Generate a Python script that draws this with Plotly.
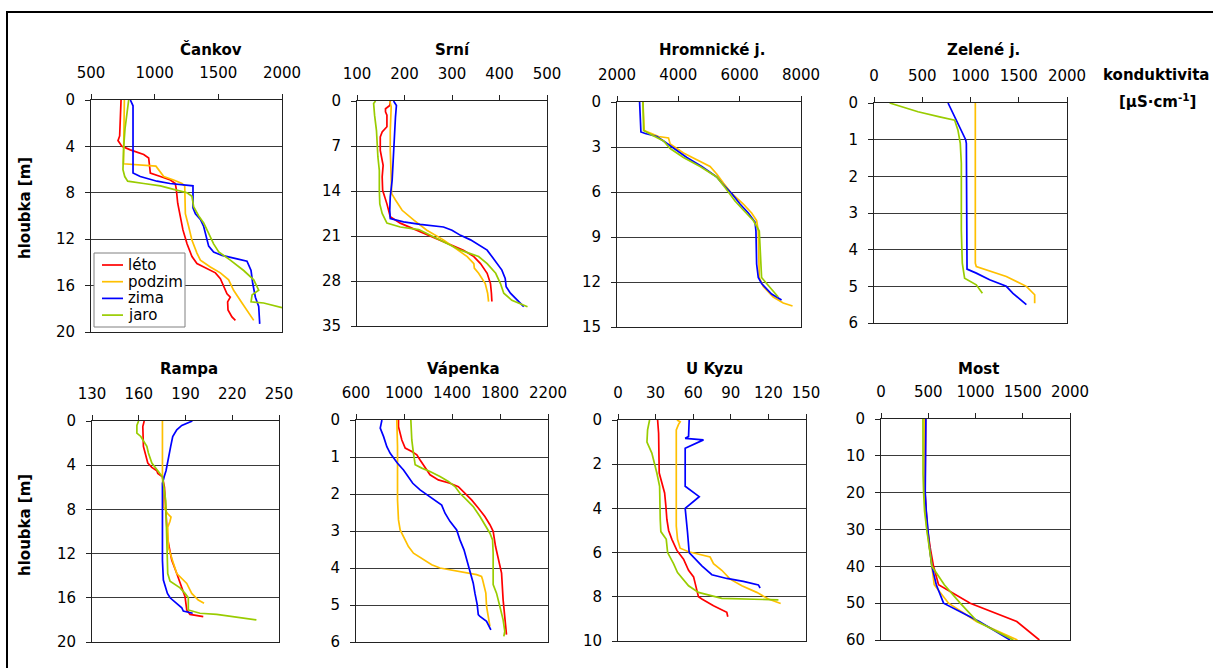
import plotly.graph_objects as go

W, H = 1213, 668

SEASONS = ["léto", "podzim", "zima", "jaro"]
COLORS = {"léto": "#FF0000", "podzim": "#FFC000", "zima": "#0000FF", "jaro": "#99CC00"}

# ---- Čankov ----
CANKOV_LETO_H = [0, 3.1, 3.5, 4.0, 4.3, 4.7, 5.0, 6.3, 6.6, 6.9, 7.2, 7.7, 8.9, 10.0, 11.2, 12.4, 13.5, 14.1, 14.5, 14.9, 15.4, 16.1, 16.7, 17.0, 17.4, 18.1, 18.7, 19.0]
CANKOV_LETO_K = [736, 725, 712, 743, 809, 914, 953, 966, 1045, 1123, 1162, 1170, 1181, 1202, 1222, 1254, 1293, 1332, 1411, 1477, 1516, 1547, 1568, 1594, 1573, 1576, 1607, 1634]
CANKOV_PODZIM_H = [0, 5.5, 5.7, 6.0, 6.6, 6.9, 7.2, 7.4, 8.0, 9.8, 10.9, 12.1, 13.2, 13.8, 14.4, 14.9, 15.5, 16.4, 17.5, 18.4, 19.0]
CANKOV_PODZIM_K = [762, 755, 1010, 1031, 1071, 1149, 1215, 1236, 1236, 1241, 1267, 1293, 1332, 1359, 1437, 1516, 1581, 1620, 1686, 1738, 1778]
CANKOV_ZIMA_H = [0, 0.5, 6.3, 6.6, 7.0, 7.2, 7.4, 9.3, 9.8, 10.3, 10.9, 11.8, 12.6, 13.1, 13.4, 13.7, 13.9, 14.7, 15.8, 17.0, 17.8, 19.3]
CANKOV_ZIMA_K = [809, 830, 830, 887, 1018, 1120, 1301, 1301, 1320, 1359, 1385, 1406, 1424, 1463, 1529, 1647, 1725, 1757, 1770, 1791, 1817, 1825]
CANKOV_JARO_H = [0, 1.1, 2.5, 4.0, 6.0, 6.6, 7.0, 7.2, 7.4, 7.7, 8.0, 8.3, 9.2, 10.0, 10.6, 11.5, 12.4, 13.1, 13.8, 14.7, 15.5, 16.4, 16.8, 17.4, 17.5, 17.9]
CANKOV_JARO_K = [796, 783, 767, 757, 751, 765, 788, 914, 1045, 1149, 1254, 1293, 1306, 1346, 1385, 1424, 1463, 1503, 1594, 1699, 1778, 1817, 1765, 1757, 1856, 2000]

# ---- Srní ----
SRNI_LETO_H = [0, 0.7, 1.2, 1.7, 2.2, 4.0, 4.8, 5.6, 7.7, 9.5, 10.0, 11.8, 13.9, 16.0, 18.0, 19.0, 20.1, 21.1, 22.2, 23.2, 24.2, 25.3, 26.8, 28.4, 29.9, 31.2]
SRNI_LETO_K = [170, 169, 160, 160, 163, 163, 153, 149, 149, 153, 155, 153, 154, 163, 170, 191, 226, 261, 296, 324, 346, 360, 374, 381, 383, 384]
SRNI_PODZIM_H = [0, 0.9, 4.6, 7.7, 11.8, 14.4, 15.4, 17.0, 18.5, 20.1, 21.6, 23.2, 24.2, 25.3, 26.0, 26.8, 28.4, 29.9, 31.2]
SRNI_PODZIM_K = [169, 172, 170, 170, 172, 173, 181, 195, 219, 247, 282, 314, 332, 346, 347, 356, 370, 375, 377]
SRNI_ZIMA_H = [0, 0.7, 2.5, 7.1, 12.3, 14.9, 17.0, 18.3, 18.8, 19.2, 19.6, 20.1, 20.9, 21.6, 23.2, 24.2, 25.3, 26.3, 27.6, 28.9, 29.9, 31.0, 32.0]
SRNI_ZIMA_K = [177, 183, 181, 177, 174, 170, 169, 170, 198, 233, 282, 300, 318, 339, 374, 384, 395, 405, 412, 414, 423, 437, 451]
SRNI_JARO_H = [0, 0.4, 2.2, 4.6, 8.7, 10.8, 13.9, 16.0, 17.5, 19.0, 19.6, 20.0, 20.6, 21.6, 23.2, 24.2, 25.3, 26.8, 28.4, 29.9, 31.0, 32.0]
SRNI_JARO_K = [139, 135, 137, 141, 144, 147, 147, 148, 153, 163, 191, 230, 247, 275, 318, 356, 374, 392, 402, 409, 426, 459]

# ---- Hromnické jezírko ----
HROM_PODZIM_H = [0, 1.9, 2.3, 2.4, 2.8, 3.4, 4.3, 4.8, 5.4, 6.1, 6.8, 7.4, 7.9, 8.6, 11.7, 12.3, 13.0, 13.4, 13.6]
HROM_PODZIM_K = [2846, 2889, 3355, 3680, 3734, 4168, 5035, 5252, 5469, 5740, 6119, 6390, 6553, 6607, 6640, 6770, 7095, 7420, 7724]
HROM_ZIMA_H = [0, 2.0, 2.1, 2.3, 2.6, 3.0, 3.7, 4.3, 5.0, 5.4, 6.1, 6.8, 7.4, 8.0, 8.6, 10.8, 11.7, 12.1, 12.8, 13.2]
HROM_ZIMA_K = [2737, 2780, 2921, 3301, 3518, 3789, 4276, 4764, 5252, 5415, 5740, 6011, 6282, 6499, 6531, 6553, 6607, 6715, 7041, 7366]
HROM_JARO_H = [0, 1.9, 2.2, 2.6, 3.1, 3.7, 4.3, 5.0, 5.7, 6.6, 7.2, 7.9, 8.6, 11.7, 12.1, 13.0]
HROM_JARO_K = [2846, 2867, 3138, 3518, 3734, 4168, 4710, 5252, 5523, 5848, 6119, 6444, 6640, 6715, 6878, 7257]

# ---- Zelené jezírko ----
ZEL_PODZIM_H = [0, 4.37, 4.46, 4.73, 5.0, 5.23, 5.46]
ZEL_PODZIM_K = [1050, 1050, 1060, 1371, 1579, 1665, 1665]
ZEL_ZIMA_H = [0, 0.38, 0.74, 1.0, 1.1, 4.0, 4.53, 4.64, 4.82, 5.0, 5.19, 5.5]
ZEL_ZIMA_K = [767, 836, 898, 950, 957, 964, 964, 1060, 1198, 1371, 1440, 1579]
ZEL_JARO_H = [0, 0.24, 0.38, 0.47, 0.74, 1.1, 1.65, 3.46, 4.37, 4.78, 4.96, 5.19]
ZEL_JARO_K = [162, 456, 680, 836, 870, 894, 905, 905, 915, 939, 1060, 1123]

# ---- Rampa ----
RAMPA_LETO_H = [0, 0.5, 2.3, 3.2, 3.8, 4.2, 4.5, 4.75, 5.05, 6.0, 7.8, 10.5, 11.4, 12.6, 13.8, 15.0, 15.9, 17.1, 17.5, 17.7]
RAMPA_LETO_K = [163.5, 162.6, 163.0, 164.5, 165.8, 168.4, 171.6, 172.2, 175.2, 176.5, 177.3, 178.4, 179.5, 181.2, 184.4, 187.6, 189.7, 190.8, 192.9, 201.4]
RAMPA_PODZIM_H = [0, 5.0, 7.8, 8.4, 8.7, 9.1, 9.6, 11.4, 12.6, 13.8, 14.7, 15.6, 16.2, 16.5]
RAMPA_PODZIM_K = [175.2, 175.2, 176.0, 178.6, 180.7, 180.0, 178.6, 179.0, 181.6, 184.4, 190.8, 194.0, 198.2, 201.9]
RAMPA_ZIMA_H = [0, 0.4, 0.8, 1.4, 2.3, 3.5, 4.5, 5.05, 5.65, 7.8, 12.6, 14.4, 15.0, 15.6, 16.0, 16.5, 16.9, 17.2, 17.4]
RAMPA_ZIMA_K = [194.4, 187.6, 184.4, 181.8, 180.5, 179.0, 177.5, 176.3, 175.2, 175.2, 175.2, 175.8, 176.9, 178.4, 180.1, 184.4, 187.6, 188.6, 194.6]
RAMPA_JARO_H = [0, 0.4, 1.1, 1.4, 2.3, 2.9, 3.8, 4.6, 5.05, 5.65, 7.2, 10.8, 13.8, 14.5, 15.1, 15.6, 16.0, 17.1, 17.4, 17.5, 17.7, 18.0]
RAMPA_JARO_K = [159.9, 158.8, 158.8, 161.3, 165.2, 166.2, 168.4, 172.6, 175.2, 175.8, 177.3, 178.0, 178.6, 180.1, 186.5, 189.7, 191.8, 191.8, 199.3, 210.0, 220.6, 235.5]

# ---- Vápenka ----
VAP_LETO_H = [0, 0.18, 0.54, 0.76, 0.85, 0.94, 1.08, 1.3, 1.48, 1.62, 1.71, 1.8, 1.98, 2.16, 2.38, 2.61, 2.83, 3.01, 3.42, 3.78, 4.14, 4.86, 5.58, 5.8]
VAP_LETO_K = [954, 954, 982, 1010, 1065, 1107, 1134, 1176, 1217, 1286, 1383, 1453, 1508, 1563, 1619, 1674, 1716, 1743, 1763, 1785, 1813, 1826, 1848, 1854]
VAP_PODZIM_H = [0, 0.72, 2.16, 2.7, 2.97, 3.15, 3.42, 3.6, 3.78, 3.91, 4.0, 4.09, 4.18, 4.23, 4.32, 4.68, 5.04, 5.58]
VAP_PODZIM_K = [940, 946, 946, 954, 968, 996, 1037, 1079, 1162, 1231, 1300, 1439, 1605, 1646, 1655, 1682, 1688, 1716]
VAP_ZIMA_H = [0, 0.22, 0.45, 0.72, 0.9, 1.03, 1.17, 1.35, 1.53, 1.71, 1.89, 2.02, 2.16, 2.3, 2.52, 2.74, 2.97, 3.24, 3.51, 3.78, 4.14, 4.41, 4.68, 4.99, 5.26, 5.31, 5.44, 5.67]
VAP_ZIMA_K = [816, 802, 830, 857, 885, 913, 946, 996, 1037, 1073, 1134, 1190, 1245, 1314, 1342, 1383, 1439, 1466, 1500, 1522, 1549, 1577, 1591, 1610, 1619, 1633, 1688, 1724]
VAP_JARO_H = [0, 0.54, 0.9, 1.21, 1.3, 1.39, 1.53, 1.66, 1.8, 1.98, 2.16, 2.34, 2.61, 2.88, 3.06, 3.24, 3.6, 4.45, 4.68, 5.04, 5.4, 5.71, 5.85]
VAP_JARO_K = [1057, 1065, 1079, 1093, 1148, 1217, 1300, 1370, 1425, 1466, 1522, 1577, 1633, 1682, 1716, 1738, 1743, 1743, 1771, 1799, 1826, 1840, 1832]

# ---- U Kyzu ----
KYZ_LETO_H = [0, 0.6, 2.4, 2.9, 3.3, 3.9, 4.5, 5.0, 5.4, 5.9, 6.3, 6.8, 7.1, 7.7, 8.0, 8.1, 8.4, 8.7, 8.9]
KYZ_LETO_K = [31.6, 32.4, 32.9, 35.0, 37.2, 38.2, 39.0, 40.4, 43.0, 47.0, 52.3, 56.3, 60.3, 62.9, 64.2, 66.9, 76.2, 86.8, 87.6]
KYZ_PODZIM_H = [0, 0.08, 0.2, 0.45, 4.8, 5.4, 5.8, 5.96, 6.2, 6.5, 6.8, 7.2, 7.5, 7.8, 8.1, 8.3]
KYZ_PODZIM_K = [47.0, 49.6, 48.3, 46.5, 46.5, 47.5, 49.6, 56.3, 73.5, 76.2, 82.8, 89.5, 98.8, 110.7, 120.0, 129.8]
KYZ_ZIMA_H = [0, 0.75, 0.83, 0.9, 1.28, 1.8, 3.0, 3.47, 4.0, 5.1, 6.0, 6.6, 7.0, 7.17, 7.3, 7.46, 7.6]
KYZ_ZIMA_K = [56.8, 56.3, 53.6, 68.2, 53.6, 53.6, 53.6, 64.8, 53.6, 55.5, 56.8, 66.9, 74.9, 86.8, 100.0, 112.0, 113.4]
KYZ_JARO_H = [0, 0.45, 1.0, 1.5, 2.4, 3.0, 4.5, 5.05, 5.4, 6.0, 6.5, 6.9, 7.5, 7.8, 8.07, 8.1, 8.14]
KYZ_JARO_K = [25.2, 23.6, 23.1, 27.0, 31.0, 33.2, 33.7, 34.2, 38.5, 39.6, 44.3, 47.5, 56.3, 64.2, 82.8, 100.0, 128.0]

# ---- Most ----
MOST_H = [0, 5, 10, 15, 20, 25, 30, 35, 40, 45, 50, 55, 60]
MOST_LETO_K = [472, 470, 468, 467, 466, 478, 493, 521, 556, 609, 944, 1437, 1676]
MOST_PODZIM_K = [461, 461, 461, 461, 461, 470, 486, 514, 539, 563, 715, 1010, 1444]
MOST_ZIMA_K = [475, 473, 470, 469, 468, 479, 493, 514, 539, 585, 662, 1040, 1366]
MOST_JARO_K = [444, 442, 440, 445, 451, 461, 484, 511, 539, 670, 838, 1020, 1401]

# Panel definitions: title, pixel box (left, top, right, bottom), x range, x step,
# max depth, depth step, series, title centre (px)
PANELS = [
    ("Čankov", (91, 100, 282, 332), (500, 2000), 500, 20, 4,
     [("léto", CANKOV_LETO_H, CANKOV_LETO_K), ("podzim", CANKOV_PODZIM_H, CANKOV_PODZIM_K),
      ("zima", CANKOV_ZIMA_H, CANKOV_ZIMA_K), ("jaro", CANKOV_JARO_H, CANKOV_JARO_K)], 211),
    ("Srní", (357, 101, 547, 326), (100, 500), 100, 35, 7,
     [("léto", SRNI_LETO_H, SRNI_LETO_K), ("podzim", SRNI_PODZIM_H, SRNI_PODZIM_K),
      ("zima", SRNI_ZIMA_H, SRNI_ZIMA_K), ("jaro", SRNI_JARO_H, SRNI_JARO_K)], 452),
    ("Hromnické j.", (617, 102, 801, 327), (2000, 8000), 2000, 15, 3,
     [("podzim", HROM_PODZIM_H, HROM_PODZIM_K), ("zima", HROM_ZIMA_H, HROM_ZIMA_K),
      ("jaro", HROM_JARO_H, HROM_JARO_K)], 712),
    ("Zelené j.", (874, 103, 1067, 323), (0, 2000), 500, 6, 1,
     [("podzim", ZEL_PODZIM_H, ZEL_PODZIM_K), ("zima", ZEL_ZIMA_H, ZEL_ZIMA_K),
      ("jaro", ZEL_JARO_H, ZEL_JARO_K)], 983),
    ("Rampa", (92, 421, 279, 642), (130, 250), 30, 20, 4,
     [("léto", RAMPA_LETO_H, RAMPA_LETO_K), ("podzim", RAMPA_PODZIM_H, RAMPA_PODZIM_K),
      ("zima", RAMPA_ZIMA_H, RAMPA_ZIMA_K), ("jaro", RAMPA_JARO_H, RAMPA_JARO_K)], 189),
    ("Vápenka", (356, 420, 548, 642), (600, 2200), 400, 6, 1,
     [("léto", VAP_LETO_H, VAP_LETO_K), ("podzim", VAP_PODZIM_H, VAP_PODZIM_K),
      ("zima", VAP_ZIMA_H, VAP_ZIMA_K), ("jaro", VAP_JARO_H, VAP_JARO_K)], 463),
    ("U Kyzu", (618, 420, 806, 641), (0, 150), 30, 10, 2,
     [("léto", KYZ_LETO_H, KYZ_LETO_K), ("podzim", KYZ_PODZIM_H, KYZ_PODZIM_K),
      ("zima", KYZ_ZIMA_H, KYZ_ZIMA_K), ("jaro", KYZ_JARO_H, KYZ_JARO_K)], 714),
    ("Most", (881, 419, 1070, 640), (0, 2000), 500, 60, 10,
     [("léto", MOST_H, MOST_LETO_K), ("podzim", MOST_H, MOST_PODZIM_K),
      ("zima", MOST_H, MOST_ZIMA_K), ("jaro", MOST_H, MOST_JARO_K)], 978),
]

FONT = "DejaVu Sans"
AXIS_COLOR = "#222222"


def px_x(p):
    return p / W


def px_y(p):
    return 1 - p / H


fig = go.Figure()
annotations = []
shapes = []
layout_axes = {}

for i, (title, box, xr, xstep, dmax, dstep, series, title_cx) in enumerate(PANELS, start=1):
    left, top, right, bottom = box
    xa = "x" if i == 1 else f"x{i}"
    ya = "y" if i == 1 else f"y{i}"
    for season, depth, vals in series:
        fig.add_trace(go.Scatter(
            x=vals, y=depth, mode="lines", name=season,
            line=dict(color=COLORS[season], width=1.7),
            xaxis=xa, yaxis=ya, showlegend=False,
        ))
    layout_axes["xaxis" if i == 1 else f"xaxis{i}"] = dict(
        domain=[px_x(left), px_x(right)], range=list(xr), tick0=xr[0], dtick=xstep,
        side="top", anchor=ya, showline=True, mirror=True, linecolor=AXIS_COLOR,
        linewidth=1, ticks="outside", ticklen=5, tickcolor=AXIS_COLOR,
        ticklabelstandoff=10, showgrid=False, zeroline=False,
        tickfont=dict(size=15, color="black"),
    )
    layout_axes["yaxis" if i == 1 else f"yaxis{i}"] = dict(
        domain=[px_y(bottom), px_y(top)], range=[dmax, 0], tick0=0, dtick=dstep,
        anchor=xa, showline=True, mirror=True, linecolor=AXIS_COLOR, linewidth=1,
        ticks="outside", ticklen=5, tickcolor=AXIS_COLOR, ticklabelstandoff=7,
        showgrid=True, gridcolor="#3a3a3a", gridwidth=1, zeroline=False,
        tickfont=dict(size=15, color="black"),
    )
    annotations.append(dict(
        text=f"<b>{title}</b>", x=px_x(title_cx), y=px_y(50 if i <= 4 else 369),
        xref="paper", yref="paper", showarrow=False, xanchor="center", yanchor="middle",
        font=dict(size=15, color="black", family=FONT),
    ))

for cy in (208, 525):
    annotations.append(dict(
        text="<b>hloubka [m]</b>", x=px_x(25), y=px_y(cy), xref="paper", yref="paper",
        showarrow=False, textangle=-90, xanchor="center", yanchor="middle",
        font=dict(size=15, color="black", family=FONT),
    ))

annotations.append(dict(
    text="<b>konduktivita</b>", x=px_x(1156), y=px_y(75), xref="paper", yref="paper",
    showarrow=False, xanchor="center", yanchor="middle",
    font=dict(size=15, color="black", family=FONT),
))
annotations.append(dict(
    text="<b>[µS·cm<sup>-1</sup>]</b>", x=px_x(1157), y=px_y(101), xref="paper", yref="paper",
    showarrow=False, xanchor="center", yanchor="middle",
    font=dict(size=15, color="black", family=FONT),
))

# Season key inside the Čankov panel
LEG_LEFT, LEG_TOP, LEG_RIGHT, LEG_BOTTOM = 94, 253, 185, 327
LEG_ROW0, LEG_ROW_STEP = 265, 16.7
shapes.append(dict(
    type="rect", xref="paper", yref="paper",
    x0=px_x(LEG_LEFT), x1=px_x(LEG_RIGHT), y0=px_y(LEG_BOTTOM), y1=px_y(LEG_TOP),
    line=dict(color="#808080", width=1), fillcolor="white", layer="above",
))
for k, season in enumerate(SEASONS):
    row_y = LEG_ROW0 + k * LEG_ROW_STEP
    shapes.append(dict(
        type="line", xref="paper", yref="paper",
        x0=px_x(102), x1=px_x(123), y0=px_y(row_y), y1=px_y(row_y),
        line=dict(color=COLORS[season], width=1.7), layer="above",
    ))
    annotations.append(dict(
        text=season, x=px_x(126), y=px_y(row_y), xref="paper", yref="paper",
        showarrow=False, xanchor="left", yanchor="middle",
        font=dict(size=15, color="black", family=FONT),
    ))

# Outer frame
shapes.append(dict(
    type="rect", xref="paper", yref="paper",
    x0=px_x(7), x1=px_x(1230), y0=px_y(12), y1=px_y(690),
    line=dict(color="black", width=2),
))

fig.update_layout(
    width=W, height=H, autosize=False,
    margin=dict(l=0, r=0, t=0, b=0, pad=0, autoexpand=False),
    paper_bgcolor="white", plot_bgcolor="white",
    font=dict(family=FONT, size=15, color="black"),
    annotations=annotations,
    shapes=shapes,
    showlegend=False,
    **layout_axes,
)

fig.write_html("out.html")
